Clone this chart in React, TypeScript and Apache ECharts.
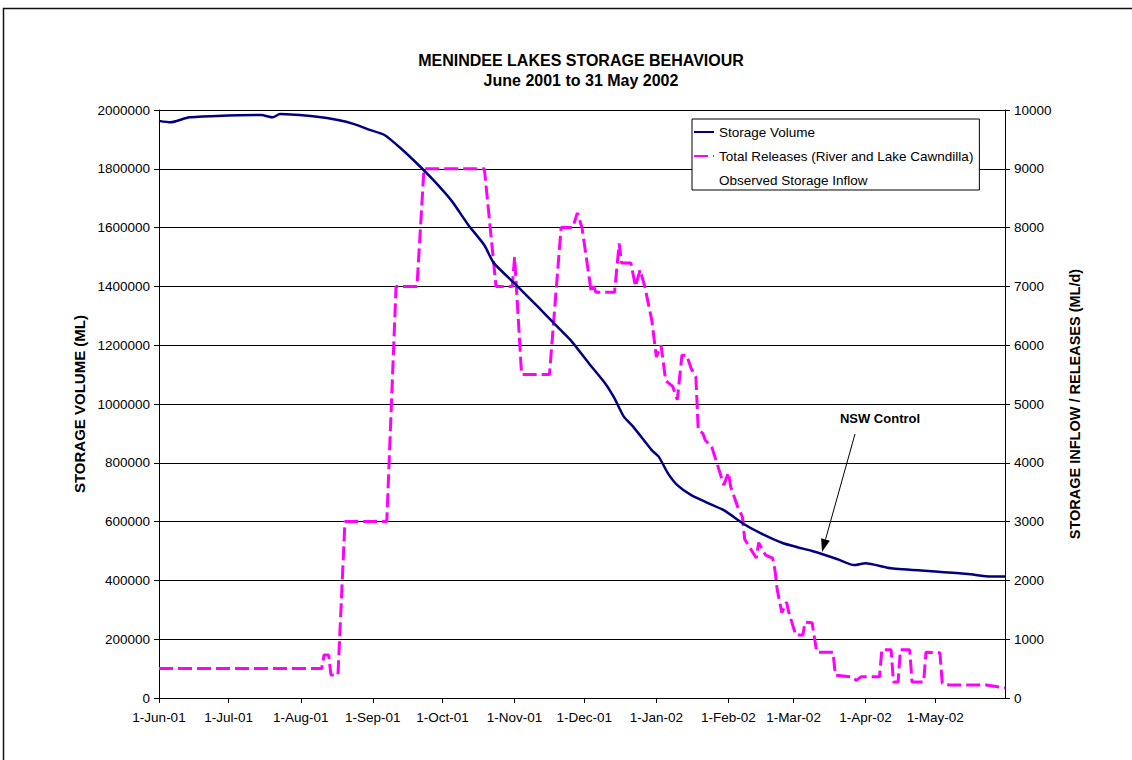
import React, { useEffect, useRef } from "react";
import * as echarts from "echarts";

// Storage volume (ML), left axis
const storageDates = [
  "2001-06-01", "2001-06-06", "2001-06-14", "2001-06-26", "2001-07-15", "2001-07-20", "2001-07-23",
  "2001-08-08", "2001-08-17", "2001-08-24", "2001-08-30", "2001-09-06", "2001-09-13", "2001-09-20",
  "2001-09-27", "2001-10-05", "2001-10-12", "2001-10-19", "2001-10-23", "2001-11-01", "2001-11-11",
  "2001-11-18", "2001-11-25", "2001-12-03", "2001-12-10", "2001-12-14", "2001-12-18", "2001-12-22",
  "2001-12-30", "2002-01-02", "2002-01-06", "2002-01-10", "2002-01-16", "2002-01-23", "2002-01-30",
  "2002-02-08", "2002-02-15", "2002-02-24", "2002-03-03", "2002-03-09", "2002-03-20", "2002-03-27",
  "2002-04-01", "2002-04-12", "2002-05-01", "2002-05-15", "2002-05-25", "2002-05-31",
];
const storageValues = [
  1963000, 1958000, 1975000, 1980000, 1983000, 1975000, 1986000,
  1977000, 1966000, 1952000, 1934000, 1915000, 1870000, 1818000,
  1762000, 1690000, 1610000, 1540000, 1480000, 1410000, 1331000,
  1274000, 1218000, 1138000, 1070000, 1019000, 957000, 923000,
  843000, 821000, 764000, 724000, 690000, 664000, 639000,
  590000, 560000, 528000, 512000, 500000, 472000, 452000,
  458000, 441000, 430000, 422000, 413000, 413000,
];

// Total releases (ML/d), right axis
const releaseDates = [
  "2001-06-01", "2001-08-10", "2001-08-11", "2001-08-13", "2001-08-14", "2001-08-17", "2001-08-20",
  "2001-09-07", "2001-09-11", "2001-09-20", "2001-09-23", "2001-10-19", "2001-10-24", "2001-10-31",
  "2001-11-01", "2001-11-04", "2001-11-16", "2001-11-21", "2001-11-26", "2001-11-28", "2001-11-30",
  "2001-12-04", "2001-12-05", "2001-12-06", "2001-12-14", "2001-12-16", "2001-12-17", "2001-12-21",
  "2001-12-23", "2001-12-25", "2001-12-27", "2001-12-30", "2002-01-01", "2002-01-03", "2002-01-05",
  "2002-01-08", "2002-01-10", "2002-01-12", "2002-01-14", "2002-01-16", "2002-01-18", "2002-01-19",
  "2002-01-21", "2002-01-22", "2002-01-25", "2002-01-27", "2002-01-30", "2002-02-01", "2002-02-02",
  "2002-02-05", "2002-02-07", "2002-02-08", "2002-02-10", "2002-02-13", "2002-02-14", "2002-02-17",
  "2002-02-20", "2002-02-21", "2002-02-22", "2002-02-24", "2002-02-26", "2002-02-27", "2002-03-02",
  "2002-03-05", "2002-03-06", "2002-03-09", "2002-03-11", "2002-03-18", "2002-03-19", "2002-03-26",
  "2002-03-28", "2002-03-30", "2002-04-07", "2002-04-08", "2002-04-12", "2002-04-13", "2002-04-15",
  "2002-04-16", "2002-04-20", "2002-04-21", "2002-04-26", "2002-04-27", "2002-05-03", "2002-05-04",
  "2002-05-07", "2002-05-23", "2002-05-31",
];
const releaseValues = [
  500, 500, 730, 730, 390, 390, 3000,
  3000, 7000, 7000, 9000, 9000, 7000, 7000,
  7500, 5500, 5500, 8000, 8000, 8250, 8000,
  6900, 7000, 6900, 6900, 7730, 7400, 7400,
  7000, 7280, 7000, 6430, 5800, 6000, 5400,
  5300, 5070, 5830, 5830, 5600, 5460, 4560,
  4500, 4390, 4250, 4000, 3620, 3830, 3590,
  3250, 3080, 2700, 2570, 2380, 2640, 2430,
  2380, 2180, 1840, 1450, 1630, 1450, 1070,
  1070, 1290, 1280, 780, 780, 390, 360,
  300, 360, 360, 820, 820, 270, 270,
  820, 820, 270, 270, 780, 770, 250,
  220, 220, 170,
];

// Observed storage inflow: no data shown
const inflowDates: string[] = [];
const inflowValues: number[] = [];

const monthTickDates = [
  "2001-06-01", "2001-07-01", "2001-08-01", "2001-09-01", "2001-10-01", "2001-11-01",
  "2001-12-01", "2002-01-01", "2002-02-01", "2002-03-01", "2002-04-01", "2002-05-01",
];
const monthTickLabels = [
  "1-Jun-01", "1-Jul-01", "1-Aug-01", "1-Sep-01", "1-Oct-01", "1-Nov-01",
  "1-Dec-01", "1-Jan-02", "1-Feb-02", "1-Mar-02", "1-Apr-02", "1-May-02",
];
const axisEndDate = "2002-05-31";

const START = Date.UTC(2001, 5, 1);
function dayOf(s: string): number {
  const [y, m, d] = s.split("-").map(Number);
  return Math.round((Date.UTC(y, m - 1, d) - START) / 86400000);
}

const FONT = "'Liberation Sans', Arial, Helvetica, sans-serif";

export default function App() {
  const ref = useRef<HTMLDivElement>(null);
  useEffect(() => {
    document.body.style.margin = "0";
    document.body.style.overflow = "hidden";
    if (!ref.current) return;
    const chart = echarts.init(ref.current, undefined, { renderer: "svg" });
    const tickDays = monthTickDates.map(dayOf);
    const labelMap: Record<number, string> = {};
    tickDays.forEach((d, i) => (labelMap[d] = monthTickLabels[i]));

    const storageData = storageDates.map((d, i) => [dayOf(d), storageValues[i]]);
    const releaseData = releaseDates.map((d, i) => [dayOf(d), releaseValues[i]]);
    const inflowData = inflowDates.map((d, i) => [dayOf(d), inflowValues[i]]);

    // Arrow for annotation
    const ax1 = 855, ay1 = 434, ax2 = 822, ay2 = 552;
    const len = Math.hypot(ax2 - ax1, ay2 - ay1);
    const ux = (ax2 - ax1) / len, uy = (ay2 - ay1) / len;
    const hl = 13, hw = 4.5;
    const bx = ax2 - ux * hl, by = ay2 - uy * hl;

    chart.setOption({
      animation: false,
      backgroundColor: "#fff",
      textStyle: { fontFamily: FONT },
      title: {
        text: "MENINDEE LAKES STORAGE BEHAVIOUR",
        subtext: "June 2001 to 31 May 2002",
        left: 576,
        top: 47,
        textAlign: "center",
        itemGap: 4,
        textStyle: { fontFamily: FONT, fontSize: 16, fontWeight: "bold", color: "#000" },
        subtextStyle: { fontFamily: FONT, fontSize: 16, fontWeight: "bold", color: "#000" },
      },
      legend: {
        orient: "vertical",
        left: 692,
        top: 119,
        padding: [6, 6, 3, 1],
        itemWidth: 20,
        itemHeight: 14,
        itemGap: 10,
        selectedMode: false,
        borderColor: "#000",
        borderWidth: 1,
        backgroundColor: "#fff",
        itemStyle: { opacity: 0 },
        textStyle: { fontFamily: FONT, fontSize: 13.5, color: "#000" },
        data: ["Storage Volume", "Total Releases (River and Lake Cawndilla)", "Observed Storage Inflow"],
      },
      grid: { left: 159, right: 127, top: 110, bottom: 62, containLabel: false },
      xAxis: {
        type: "value",
        min: 0,
        max: dayOf(axisEndDate),
        axisLine: { show: true, lineStyle: { color: "#000", width: 1 } },
        axisTick: { show: true, length: 5, customValues: tickDays, lineStyle: { color: "#000" } },
        axisLabel: {
          customValues: tickDays,
          formatter: (v: number) => labelMap[Math.round(v)] ?? "",
          fontFamily: FONT,
          fontSize: 13.5,
          color: "#000",
          margin: 12,
        },
        splitLine: { show: false },
      },
      yAxis: [
        {
          type: "value",
          min: 0,
          max: 2000000,
          interval: 200000,
          position: "left",
          name: "STORAGE VOLUME (ML)",
          nameLocation: "middle",
          nameRotate: 90,
          nameGap: 65,
          nameTextStyle: { fontFamily: FONT, fontSize: 15, fontWeight: "bold", color: "#000" },
          axisLine: { show: true, lineStyle: { color: "#000", width: 1 } },
          axisTick: { show: true, length: 5, lineStyle: { color: "#000" } },
          axisLabel: {
            formatter: (v: number) => String(v),
            fontFamily: FONT,
            fontSize: 13.5,
            color: "#000",
            margin: 9,
          },
          splitLine: { show: true, lineStyle: { color: "#000", width: 1 } },
        },
        {
          type: "value",
          min: 0,
          max: 10000,
          interval: 1000,
          position: "right",
          name: "STORAGE INFLOW / RELEASES (ML/d)",
          nameLocation: "middle",
          nameRotate: 90,
          nameGap: 62,
          nameTextStyle: { fontFamily: FONT, fontSize: 14.5, fontWeight: "bold", color: "#000" },
          axisLine: { show: true, lineStyle: { color: "#000", width: 1 } },
          axisTick: { show: true, length: 5, lineStyle: { color: "#000" } },
          axisLabel: {
            formatter: (v: number) => String(v),
            fontFamily: FONT,
            fontSize: 13.5,
            color: "#000",
            margin: 9,
          },
          splitLine: { show: false },
        },
      ],
      series: [
        {
          name: "Storage Volume",
          type: "line",
          yAxisIndex: 0,
          data: storageData,
          symbol: "none",
          showSymbol: false,
          smooth: 0.2,
          color: "#000080",
          lineStyle: { color: "#000080", width: 2.5 },
          z: 3,
        },
        {
          name: "Total Releases (River and Lake Cawndilla)",
          type: "line",
          yAxisIndex: 1,
          data: releaseData,
          symbol: "none",
          showSymbol: false,
          color: "#FF00FF",
          lineStyle: { color: "#FF00FF", width: 3, type: [14, 5] },
          z: 2,
        },
        {
          name: "Observed Storage Inflow",
          type: "line",
          yAxisIndex: 1,
          data: inflowData,
          symbol: "none",
          showSymbol: false,
          color: "rgba(0,0,0,0)",
          lineStyle: { color: "rgba(0,0,0,0)", width: 2 },
        },
      ],
      graphic: [
        {
          type: "rect",
          shape: { x: 3.5, y: 8.5, width: 1200, height: 900 },
          style: { fill: "none", stroke: "#111", lineWidth: 1.5 },
          silent: true,
        },
        {
          type: "text",
          x: 880,
          y: 418,
          style: {
            text: "NSW Control",
            font: `bold 13px ${FONT}`,
            fill: "#000",
            textAlign: "center",
            textVerticalAlign: "middle",
          },
        },
        {
          type: "line",
          shape: { x1: ax1, y1: ay1, x2: bx, y2: by },
          style: { stroke: "#000", lineWidth: 1 },
        },
        {
          type: "polygon",
          shape: {
            points: [
              [ax2, ay2],
              [bx - uy * hw, by + ux * hw],
              [bx + uy * hw, by - ux * hw],
            ],
          },
          style: { fill: "#000" },
        },
      ],
    });
    return () => chart.dispose();
  }, []);
  return <div ref={ref} style={{ width: 1132, height: 760 }} />;
}
